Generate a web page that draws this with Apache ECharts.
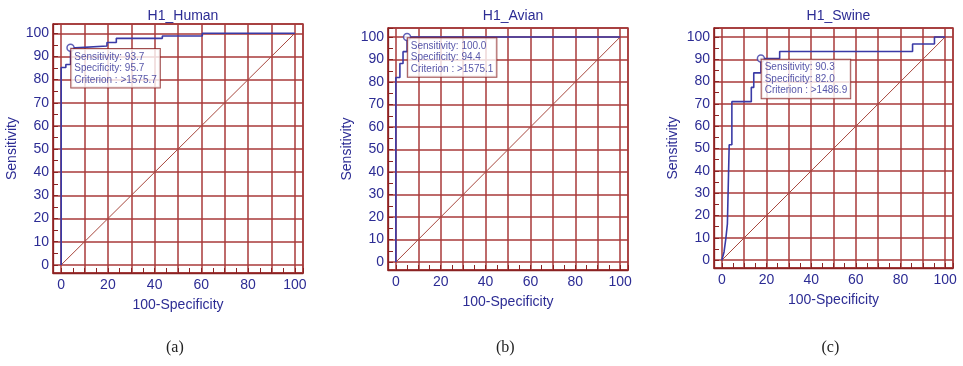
<!DOCTYPE html>
<html><head><meta charset="utf-8">
<script src="https://cdn.jsdelivr.net/npm/echarts@6/dist/echarts.min.js"></script>
<style>html,body{margin:0;padding:0;background:#fff}#c{width:963px;height:366px}</style>
</head><body><div id="c"></div>
<script>
// ---- data ----
const titles = ['H1_Human', 'H1_Avian', 'H1_Swine'];
const captions = ['(a)', '(b)', '(c)'];
const xTickLabels = [0, 20, 40, 60, 80, 100];
const yTickLabels = [0, 10, 20, 30, 40, 50, 60, 70, 80, 90, 100];

// 100-Specificity (x) and Sensitivity (y) of each ROC curve
const humanX = [0, 0, 2.0, 2.0, 4.0, 4.0, 6.0, 6.0, 19.6, 19.6, 23.6, 23.6, 43.3, 43.3, 60.4, 60.4, 100];
const humanY = [0, 85.2, 85.2, 86.5, 86.5, 93.7, 93.7, 94.5, 94.5, 96.0, 96.0, 97.8, 97.8, 98.8, 98.8, 100, 100];
const avianX = [0, 0, 1.8, 1.8, 3.2, 3.2, 5.0, 5.0, 100];
const avianY = [0, 82.0, 82.0, 88.2, 88.2, 93.5, 93.5, 100, 100];
const swineX = [0, 1.0, 1.8, 1.8, 2.5, 2.5, 3.3, 3.3, 4.5, 4.5, 13.2, 13.2, 14.3, 14.3, 17.5, 17.5, 25.9, 25.9, 85.4, 85.4, 95.2, 95.2, 100];
const swineY = [0, 3.7, 3.7, 9.7, 9.7, 16.3, 16.3, 51.7, 51.7, 71.0, 71.0, 77.4, 77.4, 83.9, 83.9, 90.3, 90.3, 93.5, 93.5, 96.8, 96.8, 100, 100];

// optimal criterion points: [x, y]
const humanCut = [4.0, 93.7];
const avianCut = [5.0, 100];
const swineCut = [17.5, 90.3];
// box texts: sensitivity, specificity, criterion
const humanStats = ['93.7', '95.7', '>1575.7'];
const avianStats = ['100.0', '94.4', '>1575.1'];
const swineStats = ['90.3', '82.0', '>1486.9'];

const diagX = [0, 100];
const diagY = [0, 100];

// ---- styling / layout ----
const BLUE = '#2c2c94';
const CURVE = '#3a3aa6';
const FRAME = '#8a2222';
const GRIDC = '#a83a3a';
const DIAG = '#a8483e';
const FONT = '"Liberation Sans", Arial, sans-serif';
const grids = [
  {left: 53, top: 24, width: 250, height: 249},
  {left: 388, top: 28, width: 240, height: 242},
  {left: 714, top: 28, width: 239, height: 240}
];
const panels = [
  {x: humanX, y: humanY, cut: humanCut, stats: humanStats},
  {x: avianX, y: avianY, cut: avianCut, stats: avianStats},
  {x: swineX, y: swineY, cut: swineCut, stats: swineStats}
];
const zip = (a, b) => a.map((v, i) => [v, b[i]]);

const option = {
  animation: false,
  backgroundColor: '#fff',
  textStyle: {fontFamily: FONT},
  title: titles.map((t, i) => ({
    text: t, left: grids[i].left + grids[i].width / 2, top: 4, textAlign: 'center',
    textStyle: {color: BLUE, fontSize: 14, fontWeight: 'normal', fontFamily: FONT}
  })),
  grid: grids.map(g => Object.assign({show: true, borderColor: FRAME, borderWidth: 1.3, backgroundColor: '#fff'}, g)),
  xAxis: grids.map((g, i) => ({
    gridIndex: i, type: 'value', min: -3.5, max: 103.5, splitNumber: 10,
    axisLine: {show: true, onZero: false, lineStyle: {color: FRAME, width: 1.3}},
    axisTick: {show: true, inside: true, length: 5, lineStyle: {color: FRAME}},
    minorTick: {show: true, splitNumber: 2, length: 5, lineStyle: {color: FRAME}},
    splitLine: {show: true, lineStyle: {color: GRIDC, width: 1.5}},
    axisLabel: {color: BLUE, fontSize: 14, margin: 5, fontFamily: FONT,
      formatter: v => xTickLabels.includes(v) ? String(v) : ''},
    name: '100-Specificity', nameLocation: 'middle', nameGap: 25,
    nameTextStyle: {color: BLUE, fontSize: 14, fontFamily: FONT}
  })),
  yAxis: grids.map((g, i) => ({
    gridIndex: i, type: 'value', min: -3.5, max: 104, splitNumber: 10,
    axisLine: {show: true, onZero: false, lineStyle: {color: FRAME, width: 1.3}},
    axisTick: {show: true, inside: true, length: 5, lineStyle: {color: FRAME}},
    minorTick: {show: true, splitNumber: 2, length: 5, lineStyle: {color: FRAME}},
    splitLine: {show: true, lineStyle: {color: GRIDC, width: 1.5}},
    axisLabel: {color: BLUE, fontSize: 14, margin: 4, fontFamily: FONT,
      formatter: v => yTickLabels.includes(v) ? String(v) : ''},
    name: 'Sensitivity', nameLocation: 'middle', nameGap: 34,
    nameTextStyle: {color: BLUE, fontSize: 14, fontFamily: FONT}
  })),
  series: [],
  graphic: captions.map((c, i) => ({
    type: 'text', left: grids[i].left + grids[i].width / 2 - 12, top: 340,
    style: {text: c, fill: '#222', font: '16px "Liberation Serif", "DejaVu Serif", serif'}
  }))
};

panels.forEach((p, i) => {
  option.series.push({
    type: 'line', xAxisIndex: i, yAxisIndex: i, data: zip(diagX, diagY), color: DIAG,
    showSymbol: false, lineStyle: {color: DIAG, width: 1}, silent: true, z: 2
  });
  option.series.push({
    type: 'line', xAxisIndex: i, yAxisIndex: i, data: zip(p.x, p.y), color: CURVE,
    showSymbol: false, lineStyle: {color: CURVE, width: 1.6}, silent: true, z: 3
  });
  option.series.push({
    type: 'scatter', xAxisIndex: i, yAxisIndex: i, data: [p.cut],
    symbol: 'circle', symbolSize: 7,
    itemStyle: {color: '#fff', borderColor: CURVE, borderWidth: 1.5}, z: 5,
    label: {
      show: true, position: [5, 5.5], align: 'left', verticalAlign: 'top',
      formatter: 'Sensitivity: ' + p.stats[0] + '\nSpecificity: ' + p.stats[1] + '\nCriterion : ' + p.stats[2],
      color: BLUE, fontSize: 10, lineHeight: 11.5, fontFamily: FONT,
      backgroundColor: '#fff', borderColor: FRAME, borderWidth: 1, padding: [2, 3, 2, 3]
    }
  });
});

const chart = echarts.init(document.getElementById('c'), null, {renderer: 'canvas'});
chart.setOption(option);
</script>
</body></html>
